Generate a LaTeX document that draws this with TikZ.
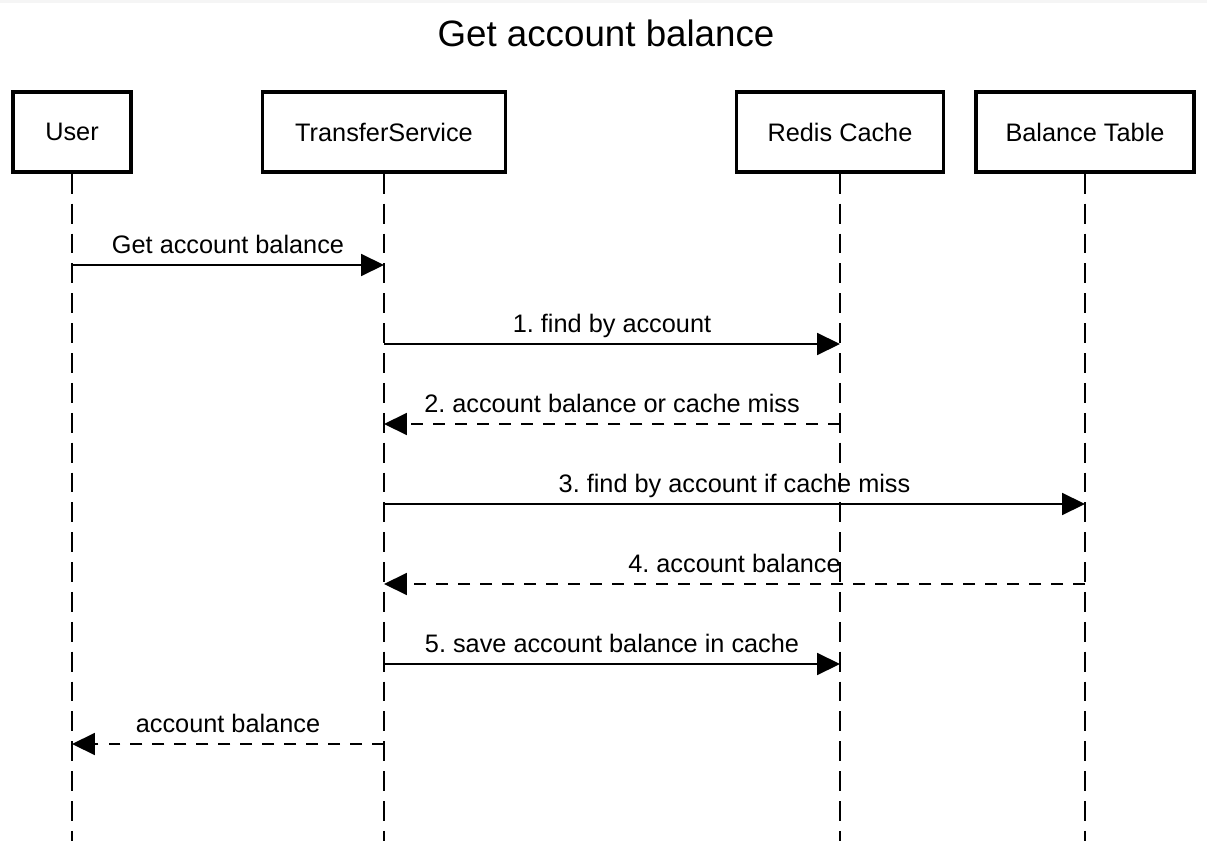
\documentclass[tikz,border=0pt]{standalone}
\usepackage{fontspec}
\setmainfont{Liberation Sans}
\usetikzlibrary{arrows.meta}
\frenchspacing

\tikzset{
  actor/.style={draw, line width=2.1pt, minimum height=1.6cm, inner sep=0pt,
    font=\fontsize{14.4}{17}\selectfont},
  lifeline/.style={line width=0.9pt, dash pattern=on 11.3pt off 5.7pt},
  call/.style={line width=0.9pt, -{Triangle[length=13pt,width=12.5pt]}},
  reply/.style={call, dash pattern=on 6.8pt off 5.7pt},
  msglabel/.style={anchor=base, yshift=6.8pt, inner sep=0pt,
    font=\fontsize{14.4}{17}\selectfont}
}

\begin{document}
\begin{tikzpicture}[x=0.02cm, y=-0.02cm]
  \useasboundingbox (0,0) rectangle (1207,841);
  \fill[black!4] (0,0) rectangle (1207,3);
  \node[anchor=base, font=\fontsize{20.9}{25}\selectfont] (title) at (606,47) {Get account balance};
  % participants
  \node[actor, minimum width=2.36cm] (user) at (72,132) {User};
  \node[actor, minimum width=4.86cm] (ts) at (384,132) {TransferService};
  \node[actor, minimum width=4.14cm] (redis) at (840,132) {Redis Cache};
  \node[actor, minimum width=4.36cm] (table) at (1085,132) {Balance Table};
  % lifelines
  \foreach \p in {user,ts,redis,table} {
    \coordinate (\p end) at (\p |- 0,841);
    \draw[lifeline] (\p) -- (\p end);
  }
  % messages
  \foreach \from/\to/\y/\sty/\txt in {
      user/ts/265/call/Get account balance,
      ts/redis/344/call/1. find by account,
      redis/ts/424/reply/2. account balance or cache miss,
      ts/table/504/call/3. find by account if cache miss,
      table/ts/584/reply/4. account balance,
      ts/redis/664/call/5. save account balance in cache,
      ts/user/744/reply/account balance} {
    \draw[\sty] (\from |- 0,\y) -- (\to |- 0,\y) node[msglabel, midway] {\txt};
  }
\end{tikzpicture}
\end{document}
